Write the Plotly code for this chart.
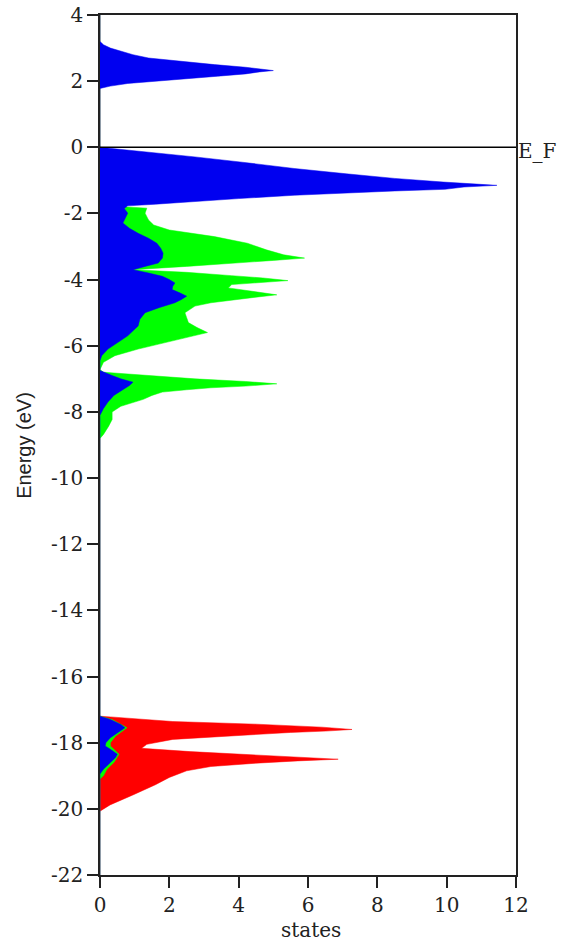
import plotly.graph_objects as go

# ---------------- data ----------------
blue_energy = [4.0, 3.2, 3.15, 3.1, 3.0, 2.9, 2.8, 2.7, 2.6, 2.5, 2.42, 2.36, 2.32, 2.28, 2.22, 2.15, 2.09, 2.0, 1.93, 1.85, 1.78,
               0.0, -0.05, -0.15, -0.29, -0.45, -0.64, -0.8, -0.94, -1.05, -1.12, -1.15, -1.2, -1.27, -1.32, -1.38, -1.45,
               -1.55, -1.65, -1.72, -1.77, -1.85, -1.99, -2.15, -2.29, -2.45, -2.6, -2.75, -2.9, -3.05, -3.2, -3.35, -3.5,
               -3.6, -3.7, -3.8, -3.9, -4.0, -4.1, -4.2, -4.3, -4.4, -4.5, -4.6, -4.7, -4.85, -5.0, -5.2, -5.4, -5.5, -5.7,
               -5.82, -5.95, -6.1, -6.3, -6.45, -6.75, -6.8, -6.9, -7.0, -7.1, -7.2, -7.3, -7.5, -7.7, -7.9, -8.1,
               -17.2, -17.3, -17.45, -17.55, -17.7, -17.85, -18.0, -18.1, -18.2, -18.35, -18.45, -18.6, -18.8, -18.95, -22.0]
blue_states = [0, 0, 0.05, 0.1, 0.3, 0.6, 0.95, 1.4, 2.3, 3.3, 4.2, 4.7, 5.0, 4.6, 4.2, 3.4, 2.7, 1.8, 0.8, 0.3, 0,
               0, 0.5, 1.5, 2.74, 4.1, 5.6, 7.1, 8.5, 9.9, 10.9, 11.45, 10.5, 9.95, 8.5, 7.0, 5.6,
               4.0, 2.74, 1.6, 0.8, 0.7, 0.8, 0.72, 0.66, 0.85, 1.1, 1.4, 1.64, 1.75, 1.82, 1.8, 1.68,
               1.3, 0.95, 1.4, 1.8, 2.0, 2.16, 2.1, 2.08, 2.3, 2.5, 2.35, 2.16, 1.7, 1.3, 1.15, 1.1, 1.0, 0.8,
               0.63, 0.45, 0.23, 0.05, 0, 0, 0.1, 0.35, 0.6, 0.95, 0.85, 0.7, 0.4, 0.23, 0.1, 0,
               0, 0.3, 0.6, 0.72, 0.5, 0.3, 0.17, 0.15, 0.3, 0.5, 0.45, 0.3, 0.1, 0, 0]

green_energy = [4.0, -1.75, -1.84, -1.99, -2.2, -2.35, -2.5, -2.6, -2.7, -2.9, -3.1, -3.25, -3.35, -3.42, -3.5, -3.6,
                -3.7, -3.78, -3.88, -3.95, -4.03, -4.1, -4.15, -4.25, -4.35, -4.46, -4.53, -4.6, -4.7, -4.8, -5.0,
                -5.15, -5.3, -5.45, -5.6, -5.7, -5.82, -5.95, -6.1, -6.3, -6.5, -6.72, -6.8, -6.85, -6.93, -7.0,
                -7.08, -7.15, -7.22, -7.27, -7.33, -7.4, -7.5, -7.62, -7.83, -8.0, -8.23, -8.43, -8.68, -8.8,
                -17.2, -17.3, -17.55, -17.8, -18.0, -18.1, -18.35, -18.6, -18.8, -19.0, -19.1, -22.0]
green_states = [0, 0, 1.35, 1.3, 1.4, 1.55, 2.0, 2.7, 3.3, 4.25, 4.8, 5.3, 5.9, 5.0, 4.0, 2.5,
                0.95, 2.5, 3.8, 4.7, 5.42, 4.5, 3.8, 3.7, 4.4, 5.1, 4.5, 3.9, 3.2, 2.74, 2.45,
                2.5, 2.55, 2.8, 3.1, 2.7, 2.25, 1.7, 1.1, 0.43, 0.1, 0, 0.1, 0.8, 1.8, 2.74,
                4.2, 5.1, 4.2, 3.2, 2.5, 1.8, 1.5, 1.25, 0.6, 0.35, 0.35, 0.25, 0.1, 0,
                0, 0.35, 0.78, 0.45, 0.3, 0.3, 0.55, 0.4, 0.2, 0.1, 0, 0]

red_energy = [4.0, -17.2, -17.22, -17.26, -17.36, -17.44, -17.53, -17.6, -17.65, -17.69, -17.8, -17.9, -18.05,
              -18.17, -18.27, -18.37, -18.5, -18.55, -18.62, -18.72, -18.85, -19.05, -19.27, -19.58, -19.88, -20.07, -22.0]
red_states = [0, 0, 0.3, 0.8, 2.1, 4.5, 6.4, 7.27, 6.5, 5.5, 3.55, 2.1, 1.35,
              1.2, 2.6, 4.5, 6.87, 5.7, 4.5, 3.2, 2.5, 2.0, 1.6, 0.95, 0.29, 0, 0]

x_ticks = [0, 2, 4, 6, 8, 10, 12]
x_tick_labels = ["0", "2", "4", "6", "8", "10", "12"]
y_ticks = [4, 2, 0, -2, -4, -6, -8, -10, -12, -14, -16, -18, -20, -22]
y_tick_labels = ["4", "2", "0", "-2", "-4", "-6", "-8", "-10", "-12", "-14", "-16", "-18", "-20", "-22"]
fermi_energy = 0

# ---------------- figure ----------------
fig = go.Figure()
for xs, ys, col in [(red_states, red_energy, "#ff0000"),
                    (green_states, green_energy, "#00ff00"),
                    (blue_states, blue_energy, "#0000f0")]:
    fig.add_trace(go.Scatter(x=xs, y=ys, mode="lines", fill="tozerox",
                             fillcolor=col, line=dict(color=col, width=0.5),
                             showlegend=False, hoverinfo="skip"))

fig.add_shape(type="line", x0=0, x1=12, y0=fermi_energy, y1=fermi_energy,
              xref="x", yref="y", line=dict(color="black", width=1.5))

serif = "DejaVu Serif"
axis_common = dict(showgrid=False, zeroline=False, ticks="outside", ticklen=11,
                   tickwidth=1.5, tickcolor="#222", showline=True, linecolor="#222",
                   linewidth=1.5, mirror=True, automargin=False,
                   tickfont=dict(family=serif, size=20, color="#222"))

fig.update_layout(
    width=566, height=943,
    margin=dict(l=100, r=50, t=15, b=68, pad=0, autoexpand=False),
    paper_bgcolor="white", plot_bgcolor="white",
    xaxis=dict(range=[0, 12], tickvals=x_ticks, ticktext=x_tick_labels, **axis_common),
    yaxis=dict(range=[-22, 4], tickvals=y_ticks, ticktext=y_tick_labels, **axis_common),
    annotations=[
        dict(text="E_F", x=12, y=fermi_energy, xref="x", yref="y", xanchor="left",
             yanchor="middle", yshift=-4, xshift=0, showarrow=False,
             font=dict(family=serif, size=20, color="#222")),
        dict(text="states", x=0.507, y=-0.064, xref="paper", yref="paper",
             xanchor="center", yanchor="middle", showarrow=False,
             font=dict(family=serif, size=20, color="#222")),
        dict(text="Energy (eV)", x=-0.183, y=0.5, xref="paper", yref="paper",
             xanchor="center", yanchor="middle", textangle=-90, showarrow=False,
             font=dict(family="Liberation Sans", size=20, color="#222")),
    ],
)

fig.write_html("out.html")
